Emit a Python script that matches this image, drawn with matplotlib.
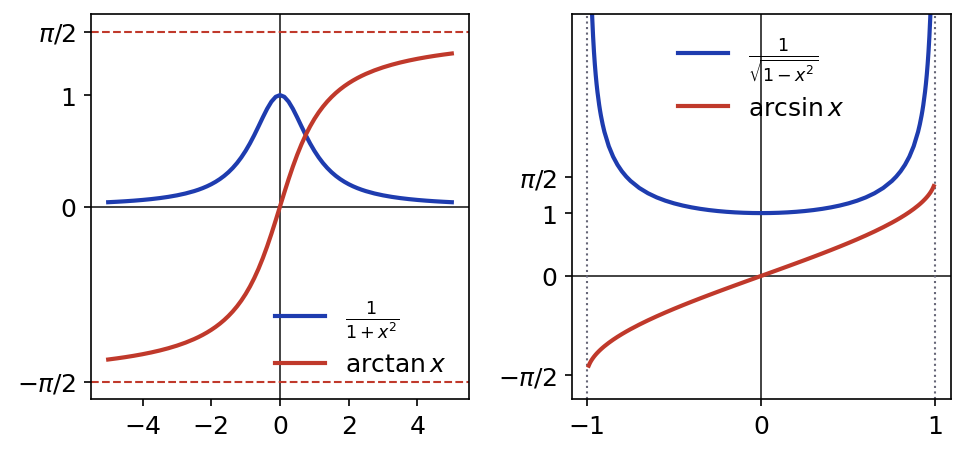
import numpy as np
import matplotlib
matplotlib.use('Agg')
import matplotlib.pyplot as plt

plt.rcParams['font.size'] = 12

x_left_half = [0, 0.125, 0.25, 0.375, 0.5, 0.625, 0.75, 0.875, 1, 1.125, 1.25, 1.375,
               1.5, 1.625, 1.75, 1.875, 2, 2.125, 2.25, 2.375, 2.5, 2.75, 3, 3.25,
               3.5, 3.75, 4, 4.25, 4.5, 4.75, 5]
lorentz_half = [1.0, 0.98462, 0.94118, 0.87671, 0.8, 0.71910, 0.64, 0.56637, 0.5,
                0.44138, 0.39024, 0.34595, 0.30769, 0.27468, 0.24615, 0.22145, 0.2,
                0.18130, 0.16495, 0.15059, 0.13793, 0.11679, 0.1, 0.08649, 0.07547,
                0.06639, 0.05882, 0.05246, 0.04706, 0.04244, 0.03846]
atan_half = [0.0, 0.12435, 0.24498, 0.35877, 0.46365, 0.55860, 0.64350, 0.71883,
             0.78540, 0.84415, 0.89606, 0.94200, 0.98279, 1.01914, 1.05165, 1.08084,
             1.10715, 1.13095, 1.15257, 1.17227, 1.19029, 1.22203, 1.24905, 1.27230,
             1.29250, 1.31019, 1.32582, 1.33971, 1.35213, 1.36330, 1.37340]

x_right_half = [0, 0.05, 0.1, 0.15, 0.2, 0.25, 0.3, 0.35, 0.4, 0.45, 0.5, 0.55, 0.6,
                0.65, 0.7, 0.75, 0.775, 0.8, 0.825, 0.85, 0.875, 0.9, 0.91, 0.92,
                0.925, 0.93, 0.94, 0.945, 0.95, 0.955, 0.96, 0.965, 0.97, 0.975,
                0.98, 0.985, 0.99]
inv_sqrt_half = [1.0, 1.00125, 1.00504, 1.01144, 1.02062, 1.03280, 1.04828, 1.06752,
                 1.09109, 1.11979, 1.15470, 1.19737, 1.25, 1.31590, 1.40028, 1.51186,
                 1.58238, 1.66667, 1.76949, 1.89832, 2.06559, 2.29416, 2.41191,
                 2.55155, 2.63181, 2.72064, 2.93105, 3.05745, 3.20256, 3.37148,
                 3.57143, 3.81315, 4.11345, 4.50035, 5.02519, 5.79529, 7.08881]
asin_half = [0.0, 0.05002, 0.10017, 0.15057, 0.20136, 0.25268, 0.30469, 0.35757,
             0.41152, 0.46677, 0.52360, 0.58236, 0.64350, 0.70758, 0.77540, 0.84806,
             0.88672, 0.92730, 0.97020, 1.01599, 1.06544, 1.11977, 1.14328, 1.16809,
             1.18104, 1.19441, 1.22263, 1.23760, 1.25324, 1.26966, 1.28700, 1.30545,
             1.32523, 1.34672, 1.37046, 1.39737, 1.42926]

x_left = [-v for v in x_left_half[:0:-1]] + x_left_half
lorentz = lorentz_half[:0:-1] + lorentz_half
arctan_y = [-v for v in atan_half[:0:-1]] + atan_half
x_right = [-v for v in x_right_half[:0:-1]] + x_right_half
inv_sqrt = inv_sqrt_half[:0:-1] + inv_sqrt_half
arcsin_y = [-v for v in asin_half[:0:-1]] + asin_half

pi_ticks = [-np.pi/2, 0, 1, np.pi/2]
pi_ticklabels = [r'$-\pi/2$', '0', '1', r'$\pi/2$']

blue = '#1e3caf'
red = '#c0392b'

fig = plt.figure(figsize=(9.65/1.5, 4.56/1.5), dpi=150)
ax1 = fig.add_axes([91/965, 1-400/456, 378/965, 385/456])
ax2 = fig.add_axes([572/965, 1-400/456, 379/965, 385/456])

# left panel
ax1.axhline(0, color='#222222', lw=0.8)
ax1.axvline(0, color='#222222', lw=0.8)
ax1.axhline(np.pi/2, color=red, lw=1, ls='--')
ax1.axhline(-np.pi/2, color=red, lw=1, ls='--')
ax1.plot(x_left, lorentz, color=blue, lw=2, label=r'$\frac{1}{1+x^2}$')
ax1.plot(x_left, arctan_y, color=red, lw=2, label=r'$\arctan x$')
ax1.set_xlim(-5.5, 5.5)
ax1.set_ylim(-1.1*np.pi/2, 1.1*np.pi/2)
ax1.set_yticks(pi_ticks)
ax1.set_yticklabels(pi_ticklabels)
ax1.set_xticks([-4, -2, 0, 2, 4])
ax1.legend(loc='lower right', frameon=False)

# right panel
ax2.axhline(0, color='#222222', lw=0.8)
ax2.axvline(0, color='#222222', lw=0.8)
ax2.axvline(-1, color='#666677', lw=1, ls=':')
ax2.axvline(1, color='#666677', lw=1, ls=':')
ax2.plot(x_right, inv_sqrt, color=blue, lw=2, label=r'$\frac{1}{\sqrt{1-x^2}}$')
ax2.plot(x_right, arcsin_y, color=red, lw=2, label=r'$\arcsin x$')
ax2.set_xlim(-1.086, 1.089)
ax2.set_ylim(-1.96, 4.17)
ax2.set_yticks(pi_ticks)
ax2.set_yticklabels(pi_ticklabels)
ax2.set_xticks([-1, 0, 1])
ax2.legend(loc='upper center', frameon=False)

fig.savefig('out.png', dpi=150)
